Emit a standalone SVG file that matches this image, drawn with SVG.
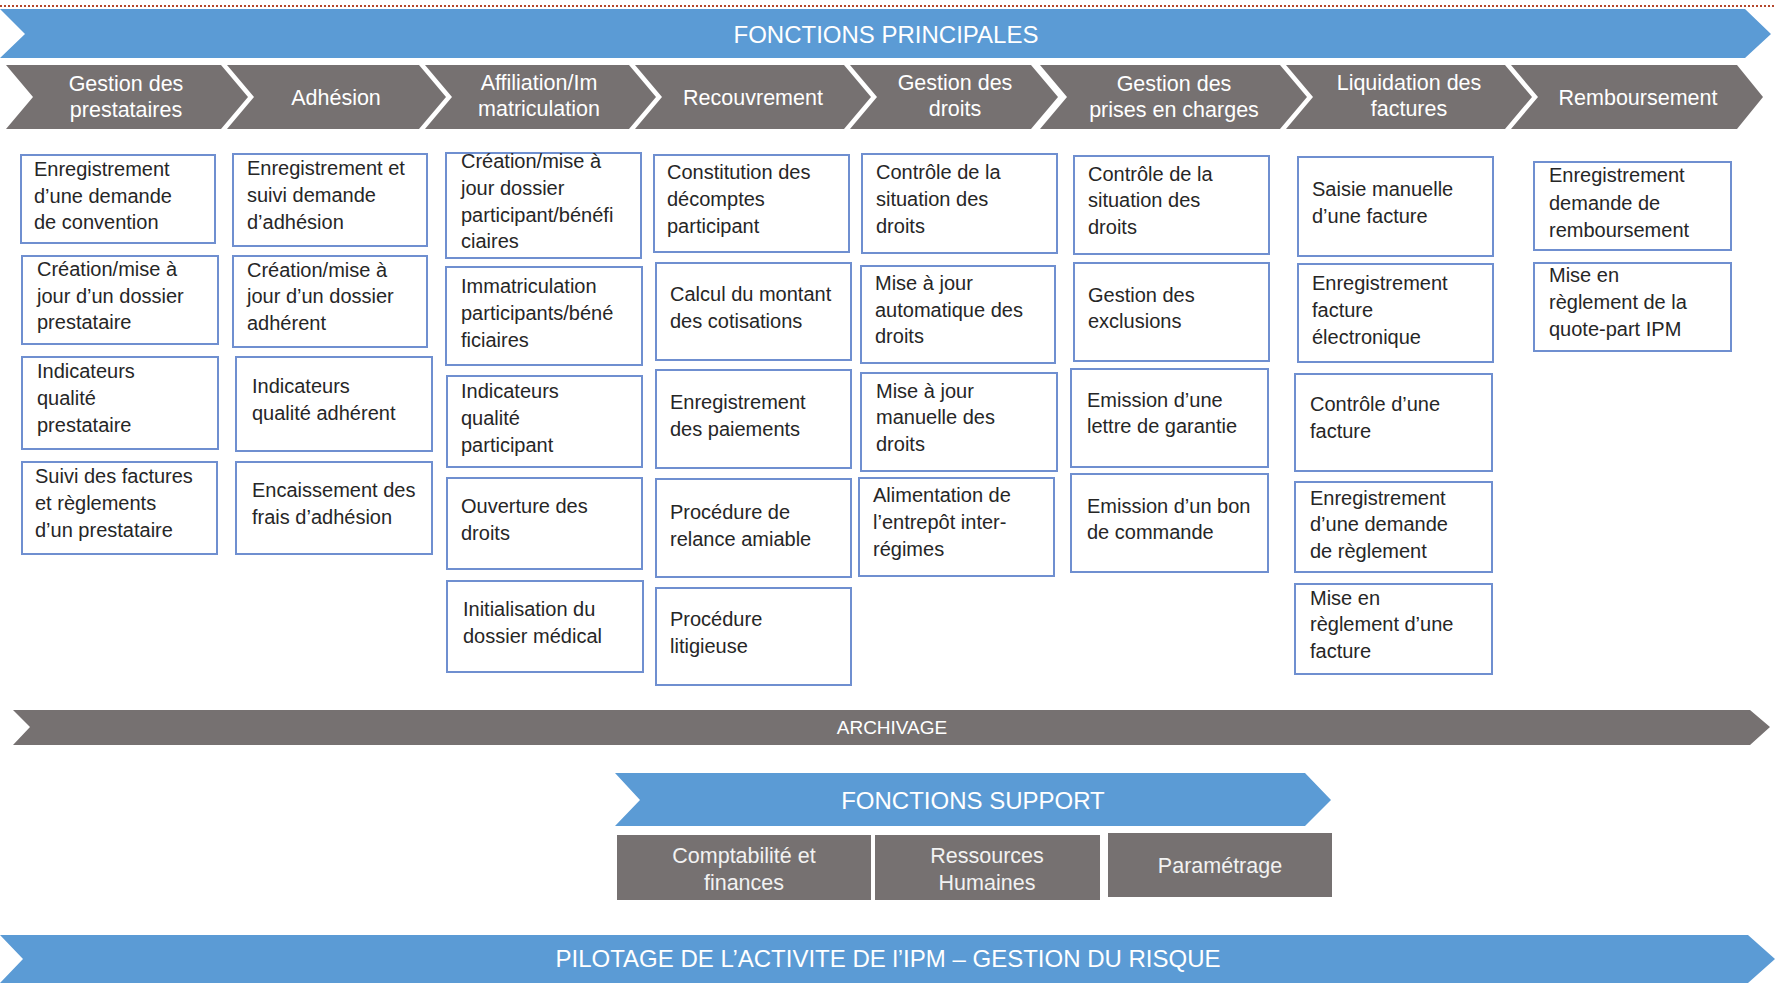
<svg xmlns="http://www.w3.org/2000/svg" width="1775" height="987" viewBox="0 0 1775 987">
<style>
.blue{fill:#5b9bd5}
.gray{fill:#767171}
.box{fill:#fff;stroke:#6f8fd0;stroke-width:2}
.bt{font-family:"Liberation Sans",Arial,sans-serif;font-size:20px;fill:#262626}
.ct{font-family:"Liberation Sans",Arial,sans-serif;font-size:21.5px;fill:#fff;text-anchor:middle}
.ht{font-family:"Liberation Sans",Arial,sans-serif;font-size:24px;fill:#fff;text-anchor:middle}
.st{font-family:"Liberation Sans",Arial,sans-serif;font-size:21.5px;fill:#f2f2f2;text-anchor:middle}
</style>
<rect width="1775" height="987" fill="#fff"/>
<line x1="0" y1="6" x2="1775" y2="6" stroke="#b4472c" stroke-width="2" stroke-dasharray="2,2"/>

<g id="fonctions-principales">
<path class="blue" d="M0,9 H1745 L1771,34 L1745,58 H0 L25,34 Z"/>
<text class="ht" x="886" y="43">FONCTIONS PRINCIPALES</text>
</g>

<g id="chev-prestataires">
<path class="gray" d="M6,65 H221 L248,97 L221,129 H6 L33,97 Z"/>
<text class="ct" x="126" y="91">Gestion des</text><text class="ct" x="126" y="117">prestataires</text>
</g>
<g id="chev-adhesion">
<path class="gray" d="M227,65 H419 L446,97 L419,129 H227 L254,97 Z"/>
<text class="ct" x="336" y="105">Adhésion</text>
</g>
<g id="chev-affiliation">
<path class="gray" d="M425,65 H629 L656,97 L629,129 H425 L452,97 Z"/>
<text class="ct" x="539" y="90">Affiliation/Im</text><text class="ct" x="539" y="116">matriculation</text>
</g>
<g id="chev-recouvrement">
<path class="gray" d="M635,65 H844 L871,97 L844,129 H635 L662,97 Z"/>
<text class="ct" x="753" y="105">Recouvrement</text>
</g>
<g id="chev-droits">
<path class="gray" d="M850,65 H1031 L1058,97 L1031,129 H850 L877,97 Z"/>
<text class="ct" x="955" y="90">Gestion des</text><text class="ct" x="955" y="116">droits</text>
</g>
<g id="chev-prises">
<path class="gray" d="M1040,65 H1280 L1307,97 L1280,129 H1040 L1067,97 Z"/>
<text class="ct" x="1174" y="91">Gestion des</text><text class="ct" x="1174" y="117">prises en charges</text>
</g>
<g id="chev-liquidation">
<path class="gray" d="M1286,65 H1505 L1532,97 L1505,129 H1286 L1313,97 Z"/>
<text class="ct" x="1409" y="90">Liquidation des</text><text class="ct" x="1409" y="116">factures</text>
</g>
<g id="chev-remboursement">
<path class="gray" d="M1511,65 H1737 L1763,97 L1737,129 H1511 L1538,97 Z"/>
<text class="ct" x="1638" y="105">Remboursement</text>
</g>

<g id="c1b1"><rect class="box" x="21" y="155" width="194" height="88"/><text class="bt"><tspan x="34" y="176">Enregistrement</tspan><tspan x="34" y="203">d’une demande</tspan><tspan x="34" y="229">de convention</tspan></text></g>
<g id="c1b2"><rect class="box" x="22" y="256" width="196" height="88"/><text class="bt"><tspan x="37" y="276">Création/mise à</tspan><tspan x="37" y="303">jour d’un dossier</tspan><tspan x="37" y="329">prestataire</tspan></text></g>
<g id="c1b3"><rect class="box" x="22" y="357" width="196" height="92"/><text class="bt"><tspan x="37" y="378">Indicateurs</tspan><tspan x="37" y="405">qualité</tspan><tspan x="37" y="432">prestataire</tspan></text></g>
<g id="c1b4"><rect class="box" x="22" y="462" width="195" height="92"/><text class="bt"><tspan x="35" y="483">Suivi des factures</tspan><tspan x="35" y="510">et règlements</tspan><tspan x="35" y="537">d’un prestataire</tspan></text></g>

<g id="c2b1"><rect class="box" x="233" y="154" width="194" height="92"/><text class="bt"><tspan x="247" y="175">Enregistrement et</tspan><tspan x="247" y="202">suivi demande</tspan><tspan x="247" y="229">d’adhésion</tspan></text></g>
<g id="c2b2"><rect class="box" x="233" y="256" width="194" height="91"/><text class="bt"><tspan x="247" y="277">Création/mise à</tspan><tspan x="247" y="303">jour d’un dossier</tspan><tspan x="247" y="330">adhérent</tspan></text></g>
<g id="c2b3"><rect class="box" x="236" y="357" width="196" height="94"/><text class="bt"><tspan x="252" y="393">Indicateurs</tspan><tspan x="252" y="420">qualité adhérent</tspan></text></g>
<g id="c2b4"><rect class="box" x="236" y="462" width="196" height="92"/><text class="bt"><tspan x="252" y="497">Encaissement des</tspan><tspan x="252" y="524">frais d’adhésion</tspan></text></g>

<g id="c3b1"><rect class="box" x="446" y="153" width="195" height="105"/><text class="bt"><tspan x="461" y="168">Création/mise à</tspan><tspan x="461" y="195">jour dossier</tspan><tspan x="461" y="222">participant/bénéfi</tspan><tspan x="461" y="248">ciaires</tspan></text></g>
<g id="c3b2"><rect class="box" x="446" y="267" width="196" height="98"/><text class="bt"><tspan x="461" y="293">Immatriculation</tspan><tspan x="461" y="320">participants/béné</tspan><tspan x="461" y="347">ficiaires</tspan></text></g>
<g id="c3b3"><rect class="box" x="447" y="376" width="195" height="91"/><text class="bt"><tspan x="461" y="398">Indicateurs</tspan><tspan x="461" y="425">qualité</tspan><tspan x="461" y="452">participant</tspan></text></g>
<g id="c3b4"><rect class="box" x="447" y="478" width="195" height="91"/><text class="bt"><tspan x="461" y="513">Ouverture des</tspan><tspan x="461" y="540">droits</tspan></text></g>
<g id="c3b5"><rect class="box" x="447" y="581" width="196" height="91"/><text class="bt"><tspan x="463" y="616">Initialisation du</tspan><tspan x="463" y="643">dossier médical</tspan></text></g>

<g id="c4b1"><rect class="box" x="654" y="155" width="195" height="97"/><text class="bt"><tspan x="667" y="179">Constitution des</tspan><tspan x="667" y="206">décomptes</tspan><tspan x="667" y="233">participant</tspan></text></g>
<g id="c4b2"><rect class="box" x="656" y="263" width="195" height="97"/><text class="bt"><tspan x="670" y="301">Calcul du montant</tspan><tspan x="670" y="328">des cotisations</tspan></text></g>
<g id="c4b3"><rect class="box" x="656" y="370" width="195" height="98"/><text class="bt"><tspan x="670" y="409">Enregistrement</tspan><tspan x="670" y="436">des paiements</tspan></text></g>
<g id="c4b4"><rect class="box" x="656" y="479" width="195" height="98"/><text class="bt"><tspan x="670" y="519">Procédure de</tspan><tspan x="670" y="546">relance amiable</tspan></text></g>
<g id="c4b5"><rect class="box" x="656" y="588" width="195" height="97"/><text class="bt"><tspan x="670" y="626">Procédure</tspan><tspan x="670" y="653">litigieuse</tspan></text></g>

<g id="c5b1"><rect class="box" x="862" y="154" width="195" height="99"/><text class="bt"><tspan x="876" y="179">Contrôle de la</tspan><tspan x="876" y="206">situation des</tspan><tspan x="876" y="233">droits</tspan></text></g>
<g id="c5b2"><rect class="box" x="861" y="266" width="194" height="97"/><text class="bt"><tspan x="875" y="290">Mise à jour</tspan><tspan x="875" y="317">automatique des</tspan><tspan x="875" y="343">droits</tspan></text></g>
<g id="c5b3"><rect class="box" x="861" y="373" width="196" height="98"/><text class="bt"><tspan x="876" y="398">Mise à jour</tspan><tspan x="876" y="424">manuelle des</tspan><tspan x="876" y="451">droits</tspan></text></g>
<g id="c5b4"><rect class="box" x="859" y="478" width="195" height="98"/><text class="bt"><tspan x="873" y="502">Alimentation de</tspan><tspan x="873" y="529">l’entrepôt inter-</tspan><tspan x="873" y="556">régimes</tspan></text></g>

<g id="c6b1"><rect class="box" x="1074" y="156" width="195" height="98"/><text class="bt"><tspan x="1088" y="181">Contrôle de la</tspan><tspan x="1088" y="207">situation des</tspan><tspan x="1088" y="234">droits</tspan></text></g>
<g id="c6b2"><rect class="box" x="1074" y="263" width="195" height="98"/><text class="bt"><tspan x="1088" y="302">Gestion des</tspan><tspan x="1088" y="328">exclusions</tspan></text></g>
<g id="c6b3"><rect class="box" x="1071" y="369" width="197" height="98"/><text class="bt"><tspan x="1087" y="407">Emission d’une</tspan><tspan x="1087" y="433">lettre de garantie</tspan></text></g>
<g id="c6b4"><rect class="box" x="1071" y="474" width="197" height="98"/><text class="bt"><tspan x="1087" y="513">Emission d’un bon</tspan><tspan x="1087" y="539">de commande</tspan></text></g>

<g id="c7b1"><rect class="box" x="1298" y="157" width="195" height="99"/><text class="bt"><tspan x="1312" y="196">Saisie manuelle</tspan><tspan x="1312" y="223">d’une facture</tspan></text></g>
<g id="c7b2"><rect class="box" x="1298" y="264" width="195" height="98"/><text class="bt"><tspan x="1312" y="290">Enregistrement</tspan><tspan x="1312" y="317">facture</tspan><tspan x="1312" y="344">électronique</tspan></text></g>
<g id="c7b3"><rect class="box" x="1295" y="374" width="197" height="97"/><text class="bt"><tspan x="1310" y="411">Contrôle d’une</tspan><tspan x="1310" y="438">facture</tspan></text></g>
<g id="c7b4"><rect class="box" x="1295" y="482" width="197" height="90"/><text class="bt"><tspan x="1310" y="505">Enregistrement</tspan><tspan x="1310" y="531">d’une demande</tspan><tspan x="1310" y="558">de règlement</tspan></text></g>
<g id="c7b5"><rect class="box" x="1295" y="584" width="197" height="90"/><text class="bt"><tspan x="1310" y="605">Mise en</tspan><tspan x="1310" y="631">règlement d’une</tspan><tspan x="1310" y="658">facture</tspan></text></g>

<g id="c8b1"><rect class="box" x="1534" y="162" width="197" height="88"/><text class="bt"><tspan x="1549" y="182">Enregistrement</tspan><tspan x="1549" y="210">demande de</tspan><tspan x="1549" y="237">remboursement</tspan></text></g>
<g id="c8b2"><rect class="box" x="1534" y="263" width="197" height="88"/><text class="bt"><tspan x="1549" y="282">Mise en</tspan><tspan x="1549" y="309">règlement de la</tspan><tspan x="1549" y="336">quote-part IPM</tspan></text></g>

<g id="archivage">
<path class="gray" d="M13,710 H1750 L1770,727 L1750,745 H13 L30,727 Z"/>
<text class="ht" x="892" y="734" style="font-size:19px">ARCHIVAGE</text>
</g>

<g id="fonctions-support">
<path class="blue" d="M615,773 H1305 L1331,800 L1305,826 H615 L640,800 Z"/>
<text class="ht" x="973" y="809">FONCTIONS SUPPORT</text>
</g>
<g id="comptabilite"><rect class="gray" x="617" y="835" width="254" height="65"/><text class="st" x="744" y="863">Comptabilité et</text><text class="st" x="744" y="890">finances</text></g>
<g id="rh"><rect class="gray" x="875" y="835" width="225" height="65"/><text class="st" x="987" y="863">Ressources</text><text class="st" x="987" y="890">Humaines</text></g>
<g id="parametrage"><rect class="gray" x="1108" y="833" width="224" height="64"/><text class="st" x="1220" y="873">Paramétrage</text></g>

<g id="pilotage">
<path class="blue" d="M0,935 H1748 L1775,959 L1748,983 H0 L23,959 Z"/>
<text class="ht" x="888" y="967">PILOTAGE DE L’ACTIVITE DE l’IPM – GESTION DU RISQUE</text>
</g>
</svg>
